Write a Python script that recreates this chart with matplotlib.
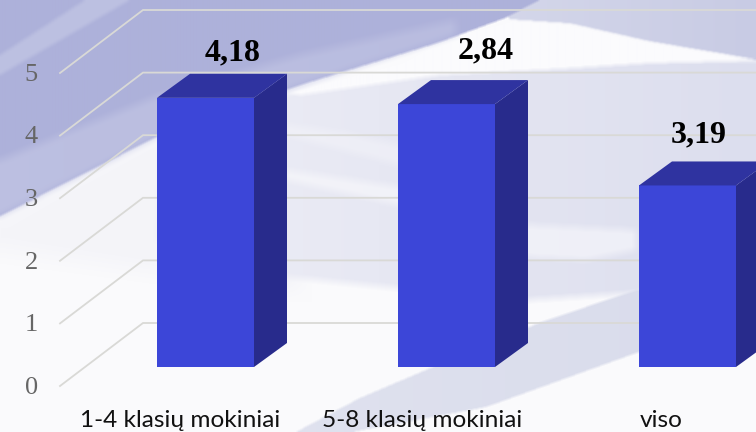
import matplotlib
matplotlib.use("Agg")
import matplotlib.pyplot as plt
from matplotlib.patches import Polygon
from matplotlib.path import Path
from matplotlib.colors import to_rgb
import numpy as np

categories = ["1-4 klasių mokiniai", "5-8 klasių mokiniai", "viso"]
heights = [4.30, 4.20, 2.90]
labels = ["4,18", "2,84", "3,19"]
ticks = [0, 1, 2, 3, 4, 5]

# hand placed value labels in the original (offset from bar centre, height)
label_dx = [0.114, 0.164, 0.048]
label_y = [4.89, 4.93, 3.58]
cat_dx = [-0.104, -0.10, -0.11]

W, H = 756, 432
PX_X = 241.0
PX_Y = 62.6
X0 = 205.5
Y0 = 367.0
BAR_W = 97 / PX_X
SIDE_DX = 33 / PX_X
SIDE_DY = 24 / PX_Y
FRONT_X = (60 - X0) / PX_X
BACK_X = (143 - X0) / PX_X
FRONT_DY = (Y0 - 386) / PX_Y
BACK_DY = (Y0 - 323) / PX_Y

# background swooshes, in pixels
bg_faint = [(0, 216), (160, 135), (300, 90), (300, 290), (150, 270), (0, 250)]
bg_lav = [(160, 135), (300, 90), (450, 60), (756, 60), (756, 273), (636, 293), (526, 300),
          (386, 287), (286, 277), (157, 240)]
bg_diag = [(296, 432), (360, 398), (433, 367), (539, 323), (636, 290), (756, 273), (756, 327),
           (636, 353), (486, 407), (352, 432)]
bg_top = [(500, 0), (756, 0), (756, 60), (650, 42), (570, 24), (510, 20)]
bg_white = [(286, 92), (400, 62), (450, 36), (510, 20), (570, 24), (650, 42), (756, 60),
            (650, 63), (560, 69), (440, 75), (300, 95)]
bg_streak1 = [(526, 225), (636, 230), (636, 250), (586, 260), (526, 257), (400, 205), (286, 180), (286, 170), (420, 190)]
bg_streak2 = [(286, 125), (340, 132), (420, 150), (526, 190), (526, 196), (400, 165), (286, 135)]
bg_blue = [(0, 0), (540, 0), (505, 18), (440, 42), (300, 85), (160, 135), (0, 216)]
bg_band = [(0, 216), (160, 135), (300, 85), (456, 35), (456, 20), (300, 55), (160, 95), (0, 160)]
bg_ray = [(0, 55), (85, 0), (130, 0), (0, 75)]

yy, xx = np.mgrid[0:H, 0:W]
pts = np.column_stack([xx.ravel() + 0.5, yy.ravel() + 0.5])


def box(a, n):
    k = np.ones(n) / n
    for axis in (0, 1):
        a = np.apply_along_axis(lambda r: np.convolve(np.pad(r, n, mode="edge"), k, "same")[n:-n], axis, a)
    return a


def layer(img, poly, c0, c1, blur, alpha=1.0):
    mask = Path(poly).contains_points(pts).reshape(H, W).astype(float)
    mask = box(mask, blur) * alpha
    t = (xx / W)[..., None]
    col = np.array(to_rgb(c0)) * (1 - t) + np.array(to_rgb(c1)) * t
    return img * (1 - mask[..., None]) + col * mask[..., None]


img = np.ones((H, W, 3)) * np.array(to_rgb("#fafafc"))
img = layer(img, bg_faint, "#f5f5f9", "#f1f1f7", 25)
img = layer(img, bg_lav, "#f2f2f8", "#dcdeee", 9)
img = layer(img, bg_diag, "#e4e6f1", "#d8dbeb", 3)
img = layer(img, bg_top, "#eceef6", "#c8cbe4", 3)
img = layer(img, bg_white, "#fbfbfd", "#fbfbfd", 5)
img = layer(img, bg_streak1, "#fafafc", "#f8f8fc", 9, 0.6)
img = layer(img, bg_streak2, "#fafafc", "#f4f4fa", 9, 0.4)
img = layer(img, bg_blue, "#adb1da", "#aeb1da", 3)
img = layer(img, bg_band, "#c0c3e3", "#b9bde0", 11, 0.8)
img = layer(img, bg_ray, "#c0c4e3", "#c0c4e3", 5, 0.8)

fig = plt.figure(figsize=(W / 100, H / 100), dpi=100)

bg = fig.add_axes([0, 0, 1, 1])
bg.imshow(img, extent=(0, W, H, 0), aspect="auto", interpolation="bilinear")
bg.axis("off")

ax = fig.add_axes([0, 0, 1, 1])
ax.patch.set_alpha(0)
ax.set_xlim(-X0 / PX_X, (W - X0) / PX_X)
ax.set_ylim((Y0 - H) / PX_Y, Y0 / PX_Y)
ax.axis("off")

grid_c = "#d9d9d6"
for v in ticks:
    ax.plot([FRONT_X, BACK_X, ax.get_xlim()[1]], [v + FRONT_DY, v + BACK_DY, v + BACK_DY],
            color=grid_c, lw=1.3, zorder=1, solid_joinstyle="miter")
    ax.text(FRONT_X - 0.12, v + FRONT_DY - 0.03, str(v), family="Liberation Serif", fontsize=19,
            color="#666666", ha="center", va="center")

x = np.arange(len(categories))
ax.bar(x, heights, width=BAR_W, color="#3c46d8", zorder=3)
for xi, h in zip(x, heights):
    r = xi + BAR_W / 2
    l = xi - BAR_W / 2
    ax.add_patch(Polygon([(r, 0), (r + SIDE_DX, SIDE_DY), (r + SIDE_DX, h + SIDE_DY), (r, h)],
                         fc="#282b8c", ec="none", zorder=3))
    ax.add_patch(Polygon([(l, h), (l + SIDE_DX, h + SIDE_DY), (r + SIDE_DX, h + SIDE_DY), (r, h)],
                         fc="#2f33a0", ec="none", zorder=3))

for xi, dx, y, t in zip(x, label_dx, label_y, labels):
    ax.text(xi + dx, y, t, family="Liberation Serif", fontweight="bold", fontsize=23,
            color="black", ha="center", va="baseline", zorder=5)

for xi, dx, c in zip(x, cat_dx, categories):
    ax.text(xi + dx, -0.85, c, family="Lato", fontsize=17.6, color="#111111",
            ha="center", va="center")

fig.savefig("out.png", dpi=100)
